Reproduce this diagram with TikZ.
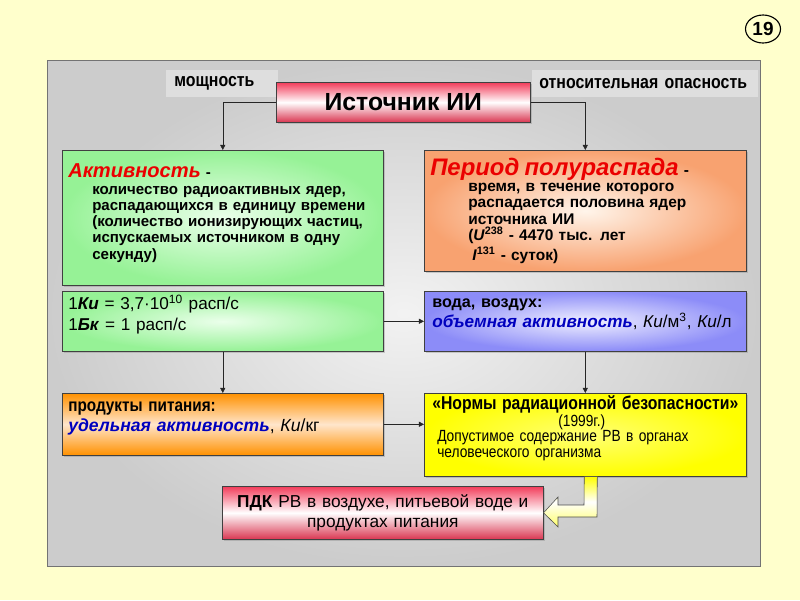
\documentclass[tikz,border=0pt]{standalone}
\usepackage{fontspec}
\setmainfont{Liberation Sans}
\newfontfamily\nar{Liberation Sans}[FakeStretch=0.85, WordSpace=0.8]
\usetikzlibrary{arrows.meta, positioning, calc, shadows, shapes.geometric}
\definecolor{pageyel}{RGB}{255,255,204}
\definecolor{srcred}{RGB}{242,60,90}
\definecolor{actgreen}{RGB}{150,242,150}
\definecolor{perorange}{RGB}{248,162,112}
\definecolor{watblue}{RGB}{140,140,248}
\definecolor{prodorange}{RGB}{255,145,0}
\definecolor{headred}{RGB}{235,0,0}
\definecolor{termblue}{RGB}{0,0,190}
\newdimen\pxu \pxu=0.025cm

\begin{document}
\begin{tikzpicture}[x=0.025cm, y=-0.025cm,
    box/.style={rectangle, draw=black!75, anchor=north west, align=left,
                inner xsep=6\pxu, inner ysep=2\pxu,
                drop shadow={shadow xshift=2\pxu, shadow yshift=-2\pxu, opacity=0.35}},
    lbl/.style={rectangle, fill=black!13, anchor=north west, font=\nar\bfseries\fontsize{13.3}{15}\selectfont},
    arr/.style={-{Triangle[length=3.6pt, width=3.6pt]}, black!85, thin},
    lift/.style={execute at end node={\endgraf\vspace*{#1\pxu}}},
  ]
  % page and panel
  \fill[pageyel] (0,0) rectangle (800,600);
  \draw[black!55, inner color=black!5, outer color=black!20] (47,60) rectangle (760,566);
  \node[ellipse, draw, thick, minimum width=35\pxu, minimum height=28\pxu, inner sep=0pt,
        font=\bfseries\fontsize{13.5}{15}\selectfont] (num) at (763,29) {19};

  % top: source and its labels
  \node[lbl, minimum width=110\pxu, minimum height=27\pxu, text width=96\pxu, inner xsep=8\pxu] (pow) at (166,70) {мощность};
  \node[lbl, minimum width=226\pxu, minimum height=27\pxu, text width=212\pxu, inner xsep=7\pxu] (rel) at (532,70) {относительная опасность};
  \node[box, align=center, minimum width=254\pxu, minimum height=40\pxu, inner sep=0pt,
        top color=srcred, bottom color=srcred!90!black, middle color=white,
        font=\bfseries\fontsize{17.6}{20}\selectfont] (src) at (276,82) {Источник ИИ};

  % second row
  \node[box, minimum width=321\pxu, minimum height=135\pxu, text width=309\pxu,
        inner color=green!8, outer color=actgreen, lift=10,
        font=\bfseries\fontsize{10.7}{11.5}\selectfont] (act) at (62,150)
    {{\fontsize{14.3}{16}\selectfont\textit{\textcolor{headred}{Активность}}} -\\[1\pxu]
     \hspace*{24\pxu}количество радиоактивных ядер,\\
     \hspace*{24\pxu}распадающихся в единицу времени\\
     \hspace*{24\pxu}(количество ионизирующих частиц,\\
     \hspace*{24\pxu}испускаемых источником в одну\\
     \hspace*{24\pxu}секунду)};
  \node[box, minimum width=322\pxu, minimum height=121\pxu, text width=310\pxu,
        inner color=orange!8, outer color=perorange,
        font=\bfseries\fontsize{11}{11.5}\selectfont] (per) at (424,150)
    {{\fontsize{17}{18}\selectfont\textit{\textcolor{headred}{Период полураспада}}} -\\
     \hspace*{38\pxu}время, в течение которого\\
     \hspace*{38\pxu}распадается половина ядер\\
     \hspace*{38\pxu}источника ИИ\\
     \hspace*{38\pxu}(\textit{U}\textsuperscript{238} - 4470 тыс. лет\\[2\pxu]
     \hspace*{42\pxu}\textit{I}\textsuperscript{131} - суток)};

  % third row
  \node[box, minimum width=321\pxu, minimum height=60\pxu, text width=309\pxu,
        inner color=green!8, outer color=actgreen, lift=14,
        font=\fontsize{12.2}{15}\selectfont] (ku) at (62,291)
    {1\textbf{\textit{Ки}} = 3,7·10\textsuperscript{10} расп/с\\
     1\textbf{\textit{Бк}} = 1 расп/с};
  \node[box, minimum width=322\pxu, minimum height=60\pxu, text width=316\pxu, inner xsep=3\pxu,
        inner color=blue!6, outer color=watblue, lift=14,
        font=\fontsize{12.2}{14.5}\selectfont] (wat) at (424,291)
    {\hspace*{5\pxu}{\bfseries\fontsize{11.5}{14.5}\selectfont вода, воздух:}\\
     \hspace*{5\pxu}\textcolor{termblue}{\textbf{\textit{объемная активность}}}, \textit{Ки}/м\textsuperscript{3}, \textit{Ки}/л};

  % fourth row
  \node[box, minimum width=321\pxu, minimum height=62\pxu, text width=309\pxu,
        top color=prodorange, bottom color=prodorange, middle color=orange!20, lift=12,
        font=\fontsize{12.5}{14.5}\selectfont] (prod) at (62,393)
    {{\nar\bfseries\fontsize{12.8}{14.5}\selectfont продукты питания:}\\
     \textcolor{termblue}{\textbf{\textit{удельная активность}}}, \textit{Ки}/кг};
  \node[box, minimum width=322\pxu, minimum height=79\pxu, text width=316\pxu, inner xsep=3\pxu,
        inner color=yellow!55, outer color=yellow, lift=14,
        font=\nar\fontsize{11.5}{11}\selectfont] (norm) at (424,393)
    {\hspace*{5\pxu}{\bfseries\fontsize{13.2}{13}\selectfont «Нормы радиационной безопасности»}\\
     \hspace*{131\pxu}(1999г.)\\
     \hspace*{10\pxu}Допустимое содержание РВ в органах\\
     \hspace*{10\pxu}человеческого организма};

  % bottom
  \node[box, align=center, minimum width=321\pxu, minimum height=53\pxu, text width=309\pxu,
        top color=srcred, bottom color=srcred!90!black, middle color=white,
        font=\fontsize{12.3}{14.5}\selectfont] (pdk) at (222,486)
    {\textbf{ПДК} РВ в воздухе, питьевой воде и\\продуктах питания};

  % connectors
  \draw[arr] (src.west) -| (act.north);
  \draw[arr] (src.east) -| (per.north);
  \draw[arr] (ku.east) -- (wat.west);
  \draw[arr] (ku.south) -- (prod.north);
  \draw[arr] (wat.south) -- (norm.north);
  \draw[arr] (prod.east) -- (prod.east -| norm.west);

  % block arrow from norms to pdk
  \draw[black!70, top color=yellow, bottom color=yellow!60, middle color=white]
    ($(norm.south)+(-1,0)$) -- ($(norm.south)+(12,0)$) -- (597,517) -- (558,517) -- (558,527)
    -- (pdk.east) -- (558,497) -- (558,505) -- (584,505) -- cycle;
\end{tikzpicture}
\end{document}
